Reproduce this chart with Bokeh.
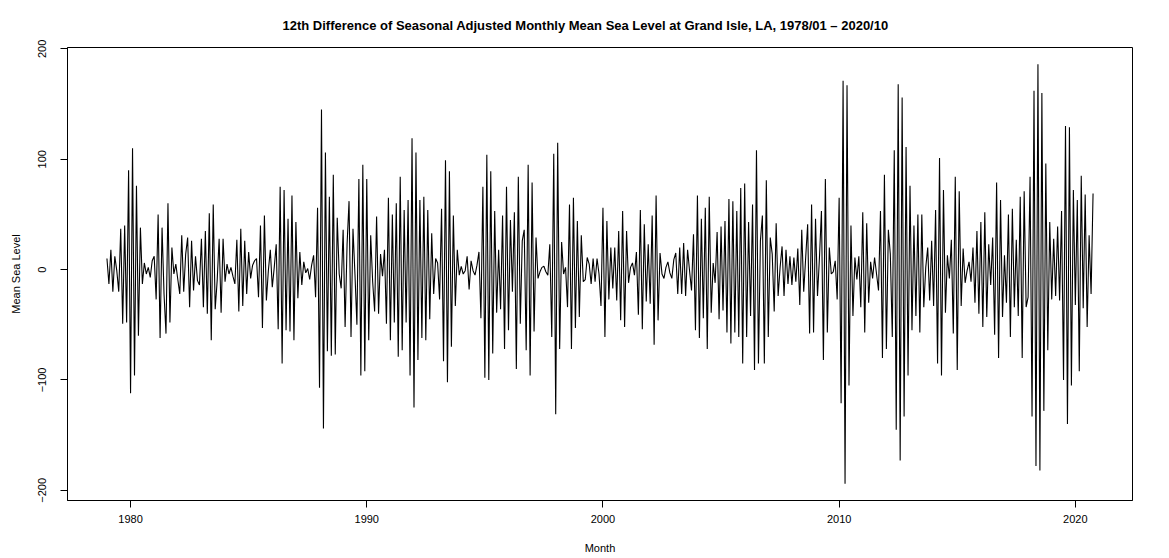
import numpy as np
from bokeh.plotting import figure
from bokeh.models import Range1d, FixedTicker
from bokeh.embed import file_html
from bokeh.resources import INLINE

# 12th difference of seasonally adjusted monthly mean sea level, monthly from 1979/01 to 2020/10
msl_part01 = [10, -13, 18, -20, 12, -1, -20, 37, -49, 40, -48, 90, -112, 110, -96, 76, -60, 38, -13, 6,
              -4, 2, -7, 8, 12, -27, 50, -62, 38, -22, -58, 60, -48, 20, -4, 5, -9, -22, 31, -20, 14, 29]
msl_part02 = [-34, 26, -19, 12, -10, -14, 28, -34, 35, -40, 51, -64, 59, -36, -10, 28, -39, 28, -11, 5,
              -4, 2, -6, -13, 27, -38, 37, -33, 26, -22, 16, -8, 4, 8, 10, -25, 40, -53, 49, -28, -1, 18, -16]
msl_part03 = [2, 23, -54, 75, -85, 72, -55, 46, -56, 67, -64, 43, -26, 16, -14, 7, -3, 1, -9, 4,
              13, -25, 56, -107, 145, -144, 106, -74, 66, -78, 86, -77, 47, -4, -17, 36, -52, 23, 62, -61, 37, -4, -50]
msl_part04 = [82, -96, 95, -92, 82, -64, 31, -11, -38, 48, -40, 14, -6, 18, -49, 65, -64, 50, -48, 60,
              -79, 84, -73, 54, -48, 63, -96, 119, -125, 106, -82, 63, -62, 66, -64, 54, -45, 33, -22, 10, 6, -27]
msl_part05 = [55, -83, 99, -102, 89, -70, 49, -33, 18, -5, 3, -4, -1, 12, -18, 8, -1, -5, 4, 16,
              -44, 75, -98, 104, -100, 89, -76, 53, -39, 18, -36, 49, -72, 75, -55, 45, -20, 52, -90, 84, -49, 26]
msl_part06 = [36, -73, 95, -96, 79, -56, 29, -8, -2, 2, 3, -2, -5, 23, -61, 105, -131, 115, -72, 25,
              -4, 2, -34, 59, -72, 65, -53, 44, -43, 31, -11, -9, 11, 5, -13, 10, -11, 10, -4, -33, 56, -61]
msl_part07 = [44, -27, 20, -17, 20, -28, 35, -46, 53, -52, 35, -12, 2, 6, -5, 16, -41, 54, -54, 41,
              -29, 23, -31, 49, -68, 67, -46, 15, -4, -8, 2, 7, -3, -8, 9, 15, -22, 20, -22, 24, -24, 18]
msl_part08 = [-1, -19, 32, -55, 67, -62, 46, -44, 56, -72, 66, -39, 6, -12, 34, -45, 39, -37, 44, -57,
              64, -67, 62, -57, 53, -61, 74, -85, 78, -61, 43, -42, 59, -91, 108, -85, 26, 49, -85, 81, -61, 29, 14]
msl_part09 = [-38, 42, -24, 2, 21, -24, 18, -13, 12, -14, 11, -11, 19, -32, 36, -20, 11, 41, -58, 59,
              -57, 46, -24, 11, 53, -82, 82, -57, 20, -4, -2, 8, -27, 65, -121, 171, -194, 167, -105, 40]
msl_part10 = [-42, 11, -9, 12, -34, 52, -57, 42, -30, 7, -8, 11, -4, -19, 53, -80, 86, -72, 36, 14,
              -61, 108, -145, 168, -173, 156, -133, 111, -96, 76, -55, 40, -42, 50, -57, 50, -34, 2, 20, -28,
              26, -33, 54]
msl_part11 = [-85, 101, -96, 72, -39, 13, -8, 27, -58, 84, -91, 71, -33, 19, -12, -1, 7, -11, 20, -30,
              35, -40, 43, -52, 52, -43, 23, -14, 29, -59, 79, -80, 63, -43, 13, -30, 50]
msl_part12 = [-61, 55, -34, 27, -42, 66, -80, 71, -34, -25, 84, -133, 162, -178, 186, -182, 160, -128, 96, -73,
              43, -27, 28, -24, 39, -28, 53, -100, 130, -140, 129, -105, 72, -32, 63, -92, 85, -35, 68, -52,
              31, -22, 69]

start_year = 1979
x_ticks = [1980, 1990, 2000, 2010, 2020]
y_ticks = [-200, -100, 0, 100, 200]

values = np.array(msl_part01 + msl_part02 + msl_part03 + msl_part04 + msl_part05 + msl_part06 +
                  msl_part07 + msl_part08 + msl_part09 + msl_part10 + msl_part11 + msl_part12, dtype=float)
months = start_year + np.arange(len(values)) / 12.0

def padded(lo, hi, frac=0.04):
    d = (hi - lo) * frac
    return lo - d, hi + d

x0, x1 = padded(months.min(), months.max())
y0, y1 = padded(values.min(), values.max())

FONT = "Liberation Sans"

p = figure(width=1169, height=558, output_backend="svg", toolbar_location=None,
           x_range=Range1d(x0, x1), y_range=Range1d(y0, y1),
           min_border_left=67, min_border_right=37, min_border_top=47, min_border_bottom=58,
           background_fill_color="white", border_fill_color="white")

p.line(months, values, line_color="black", line_width=1.1)

p.grid.visible = False
p.outline_line_color = "black"
p.outline_line_width = 1

p.title.text = "12th Difference of Seasonal Adjusted Monthly Mean Sea Level at Grand Isle, LA, 1978/01 \u2013 2020/10"
p.title.align = "left"
p.title.offset = 215
p.title.vertical_align = "top"
p.title.text_font = FONT
p.title.text_font_size = "13px"
p.title.text_font_style = "bold"
p.title.text_color = "black"
p.title.standoff = 26

p.xaxis.ticker = FixedTicker(ticks=x_ticks)
p.yaxis.ticker = FixedTicker(ticks=y_ticks)
p.xaxis.axis_label = "Month"
p.yaxis.axis_label = "Mean Sea Level"
p.yaxis.major_label_orientation = "vertical"

for ax in (p.xaxis[0], p.yaxis[0]):
    ax.axis_line_color = "black"
    ax.major_tick_line_color = "black"
    ax.major_tick_in = 0
    ax.major_tick_out = 7
    ax.minor_tick_line_color = None
    ax.major_label_text_font = FONT
    ax.major_label_text_font_size = "11px"
    ax.major_label_text_color = "black"
    ax.axis_label_text_font = FONT
    ax.axis_label_text_font_size = "11px"
    ax.axis_label_text_font_style = "normal"
    ax.axis_label_text_color = "black"

p.xaxis.major_label_standoff = 7
p.xaxis.axis_label_standoff = 16
p.yaxis.major_label_standoff = 14
p.yaxis.axis_label_standoff = 14

open("out.html", "w").write(file_html(p, INLINE))
